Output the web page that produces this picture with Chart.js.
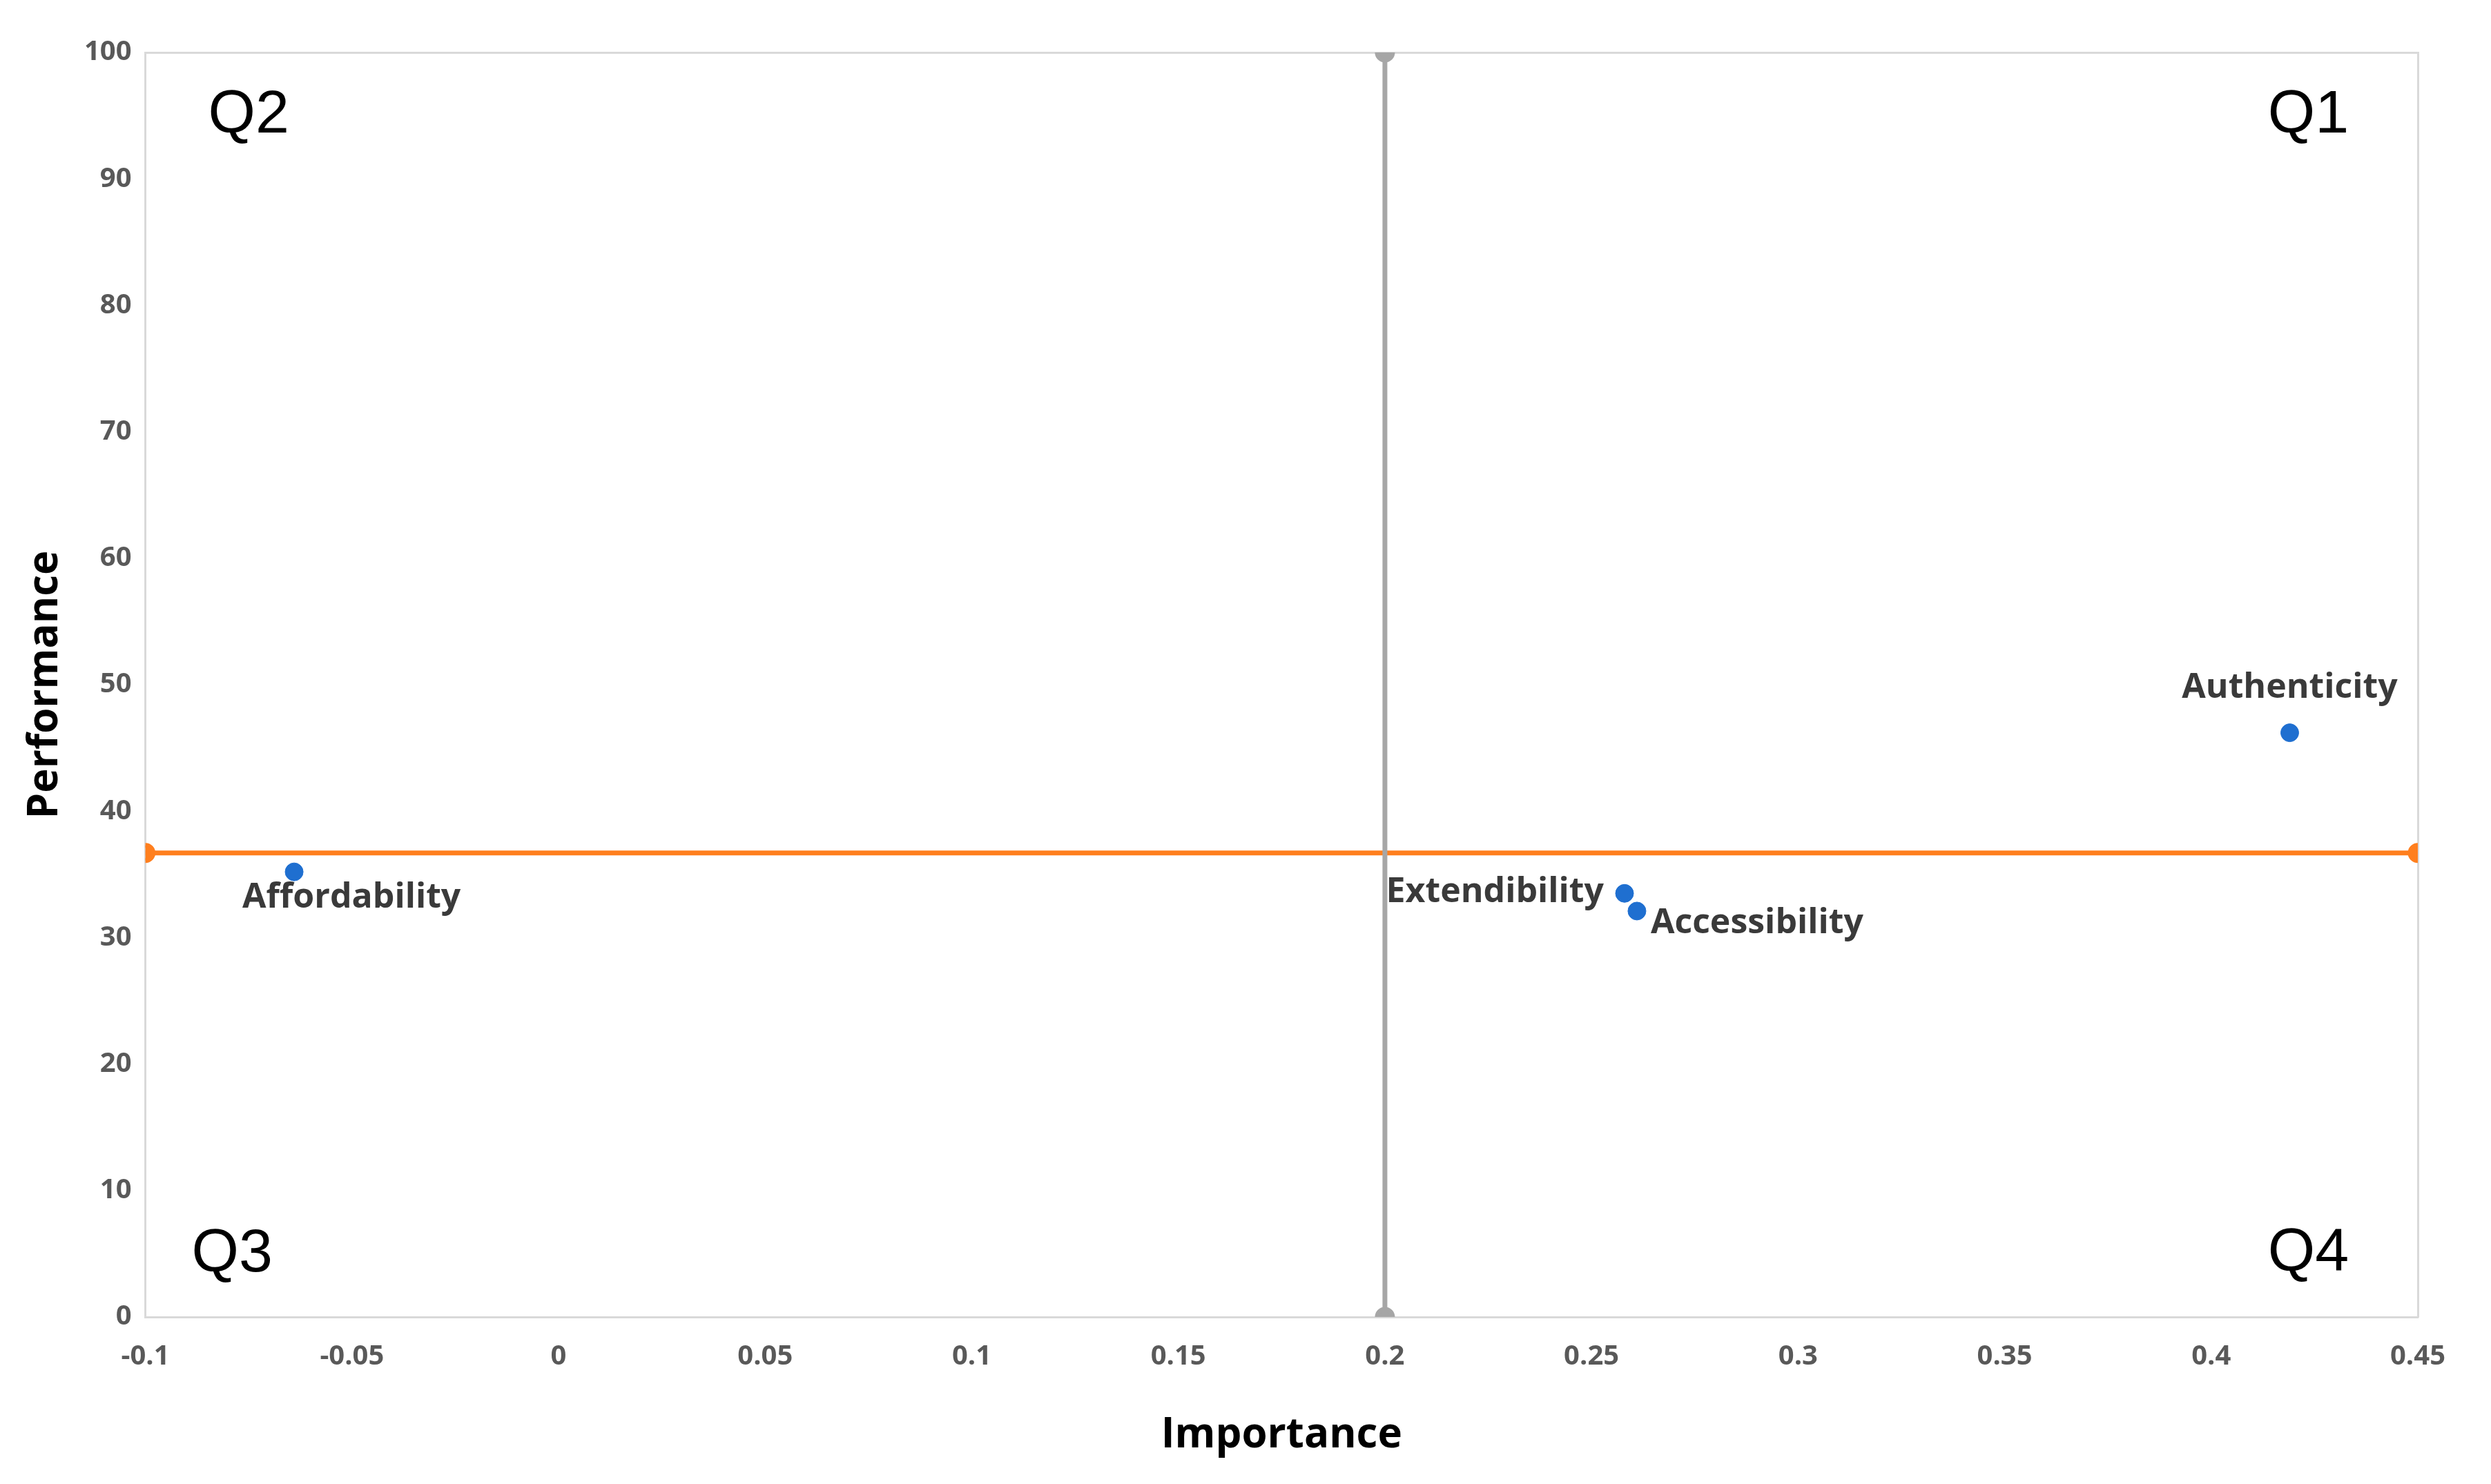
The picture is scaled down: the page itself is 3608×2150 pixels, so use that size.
<!DOCTYPE html>
<html>
<head>
<meta charset="utf-8">
<script src="https://cdn.jsdelivr.net/npm/chart.js@4/dist/chart.umd.min.js"></script>
<style>
  html, body { margin: 0; padding: 0; background: #fff; }
  #wrap { width: 3608px; height: 2150px; }
</style>
</head>
<body>
<div id="wrap"><canvas id="chart" width="3608" height="2150"></canvas></div>
<script>
var itemNames = ['Affordability', 'Extendibility', 'Accessibility', 'Authenticity'];
var importance = [-0.064, 0.258, 0.261, 0.419];
var performance = [35.2, 33.5, 32.1, 46.2];
var xTicks = [-0.1, -0.05, 0, 0.05, 0.1, 0.15, 0.2, 0.25, 0.3, 0.35, 0.4, 0.45];
var xTickLabels = ['-0.1', '-0.05', '0', '0.05', '0.1', '0.15', '0.2', '0.25', '0.3', '0.35', '0.4', '0.45'];
var yTicks = [0, 10, 20, 30, 40, 50, 60, 70, 80, 90, 100];
var meanImportance = 0.2;
var meanPerformance = 36.7;
var quadrantNames = ['Q1', 'Q2', 'Q3', 'Q4'];
var quadrantX = [0.4235, -0.075, -0.079, 0.4235];
var quadrantY = [95, 95, 4.9, 5];

var labelFont = 'bold 50px "Open Sans", "DejaVu Sans", sans-serif';
// label anchor: where text goes relative to its point
var labelAlign = [
    {dx: -75, dy: 38, align: 'left'},
    {dx: -30, dy: -2, align: 'right'},
    {dx: 20, dy: 18, align: 'left'},
    {dx: 0, dy: -65, align: 'center'}
];

var labelsPlugin = {
    id: 'pointLabels',
    afterDatasetsDraw: function (chart) {
        var ctx = chart.ctx;
        var xs = chart.scales.x, ys = chart.scales.y;
        ctx.save();
        ctx.textBaseline = 'middle';
        ctx.font = labelFont;
        ctx.fillStyle = '#3a3a3a';
        itemNames.forEach(function (name, i) {
            var px = xs.getPixelForValue(importance[i]);
            var py = ys.getPixelForValue(performance[i]);
            ctx.textAlign = labelAlign[i].align;
            ctx.fillText(name, px + labelAlign[i].dx, py + labelAlign[i].dy);
        });
        ctx.font = '88px "Liberation Sans", Arial, sans-serif';
        ctx.fillStyle = '#000';
        ctx.textAlign = 'center';
        quadrantNames.forEach(function (q, i) {
            ctx.fillText(q, xs.getPixelForValue(quadrantX[i]), ys.getPixelForValue(quadrantY[i]));
        });
        ctx.restore();
    }
};

var tickFont = {family: '"Open Sans", "DejaVu Sans", sans-serif', size: 40, weight: 'bold'};
var titleFont = {family: '"Open Sans", "DejaVu Sans", sans-serif', size: 60, weight: 'bold'};

new Chart(document.querySelector('#chart').getContext('2d'), {
    type: 'scatter',
    data: {
        datasets: [
            {
                data: importance.map(function (v, i) { return {x: v, y: performance[i]}; }),
                backgroundColor: '#1f6fd0',
                borderColor: '#1f6fd0',
                pointRadius: 13
            },
            {
                data: [{x: meanImportance, y: 0}, {x: meanImportance, y: 100}],
                showLine: true,
                borderColor: '#a6a6a6',
                backgroundColor: '#a6a6a6',
                borderWidth: 7,
                pointRadius: 11
            },
            {
                data: [{x: xTicks[0], y: meanPerformance}, {x: xTicks[xTicks.length - 1], y: meanPerformance}],
                showLine: true,
                borderColor: '#ff7f1e',
                backgroundColor: '#ff7f1e',
                borderWidth: 7,
                pointRadius: 11
            }
        ]
    },
    options: {
        responsive: false,
        animation: false,
        layout: {padding: {left: 26, right: 106, top: 76, bottom: 30}},
        plugins: {legend: {display: false}, tooltip: {enabled: false}},
        scales: {
            x: {
                type: 'linear',
                min: xTicks[0],
                max: xTicks[xTicks.length - 1],
                afterBuildTicks: function (axis) {
                    axis.ticks = xTicks.map(function (v) { return {value: v}; });
                },
                ticks: {
                    font: tickFont,
                    color: '#595959',
                    padding: 34,
                    maxRotation: 0,
                    callback: function (v) {
                        var i = xTicks.findIndex(function (t) { return Math.abs(t - v) < 1e-9; });
                        return i >= 0 ? xTickLabels[i] : '';
                    }
                },
                grid: {display: false, drawTicks: false},
                border: {color: '#d9d9d9', width: 3},
                title: {display: true, text: 'Importance', font: titleFont, color: '#000', padding: {top: 20}}
            },
            y: {
                min: 0,
                max: 100,
                afterBuildTicks: function (axis) {
                    axis.ticks = yTicks.map(function (v) { return {value: v}; });
                },
                ticks: {font: tickFont, color: '#595959', padding: 20},
                grid: {display: false, drawTicks: false},
                border: {color: '#d9d9d9', width: 3},
                title: {display: true, text: 'Performance', font: titleFont, color: '#000', padding: {bottom: 0}}
            },
            x2: {
                position: 'top', min: -0.1, max: 0.45,
                ticks: {display: false}, grid: {display: false, drawTicks: false},
                border: {color: '#d9d9d9', width: 3}
            },
            y2: {
                position: 'right', min: 0, max: 100,
                ticks: {display: false}, grid: {display: false, drawTicks: false},
                border: {color: '#d9d9d9', width: 3}
            }
        }
    },
    plugins: [labelsPlugin]
});
</script>
</body>
</html>
